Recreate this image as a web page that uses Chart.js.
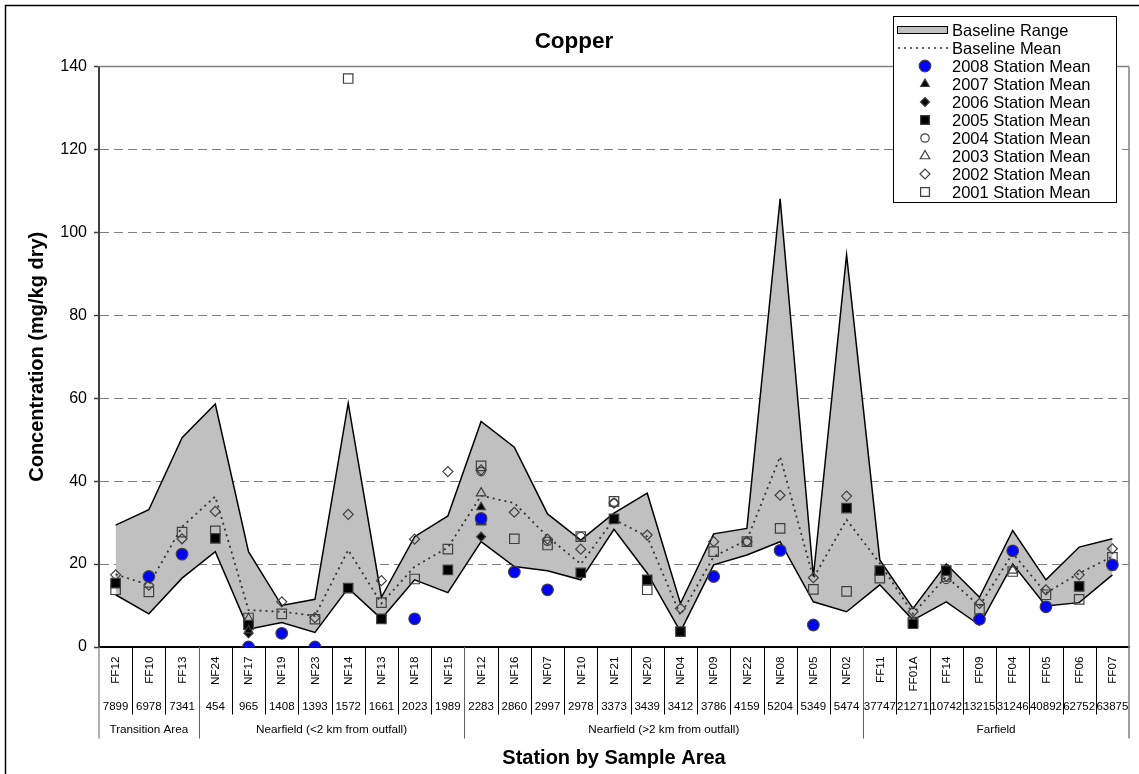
<!DOCTYPE html>
<html><head><meta charset="utf-8">
<script src="https://cdn.jsdelivr.net/npm/chart.js@4/dist/chart.umd.min.js"></script>
<style>html,body{margin:0;padding:0;background:#fff;}#wrap{width:1139px;height:774px;}</style>
</head><body><div id="wrap"><canvas id="c" width="1139" height="774"></canvas></div>
<script>
const stations = ['FF12','FF10','FF13','NF24','NF17','NF19','NF23','NF14','NF13','NF18','NF15','NF12','NF16','NF07','NF10','NF21','NF20','NF04','NF09','NF22','NF08','NF05','NF02','FF11','FF01A','FF14','FF09','FF04','FF05','FF06','FF07'];
const stationNumbers = ['7899','6978','7341','454','965','1408','1393','1572','1661','2023','1989','2283','2860','2997','2978','3373','3439','3412','3786','4159','5204','5349','5474','37747','21271','10742','13215','31246','40892','62752','63875'];
const areaNames = ['Transition Area','Nearfield (<2 km from outfall)','Nearfield (>2 km from outfall)','Farfield'];
const areaSizes = [3, 8, 12, 8];
const yTickValues = [0, 20, 40, 60, 80, 100, 120, 140];

const baselineUpper = [29.4,33.1,50.5,58.6,23.0,10.0,11.5,58.8,12.0,26.6,31.6,54.4,48.2,32.1,25.8,32.3,37.1,10.5,27.3,28.6,108.1,17.0,94.6,21.0,9.3,20.0,12.0,28.1,16.2,24.1,26.1];
const baselineLower = [12.6,8.0,16.6,23.0,4.3,5.9,3.5,14.2,6.8,16.2,13.1,25.4,19.4,18.4,16.2,28.4,17.8,3.7,19.8,22.2,25.4,10.9,8.5,15.0,6.5,10.9,5.3,20.0,9.9,10.7,17.4];
const baselineMean  = [17.5,15.0,29.0,36.3,8.9,8.5,7.5,23.4,10.5,19.4,24.0,36.5,34.7,26.6,20.0,30.8,26.6,7.7,21.8,25.8,45.9,16.6,30.7,20.2,8.0,17.0,9.9,22.6,13.0,17.8,21.8];

const mean2008 = [null,17.0,22.4,null,0,3.3,0,null,null,6.8,null,31.0,18.1,13.8,null,null,null,null,17.0,null,23.3,5.3,null,null,null,null,6.7,23.2,9.7,null,19.8];
const mean2007 = [null,null,null,null,4.0,null,null,null,null,null,null,33.7,null,null,null,null,null,null,null,null,null,null,null,null,null,null,null,null,null,null,null];
const mean2006 = [null,null,null,null,3.3,null,null,null,null,null,null,26.6,null,null,null,null,null,null,null,null,null,null,null,null,null,null,null,null,null,null,null];
const mean2005 = [15.4,null,null,26.2,5.3,null,null,14.2,6.8,null,18.6,30.6,null,null,17.9,30.9,16.2,3.7,null,null,null,null,33.5,18.4,5.6,18.4,null,null,null,14.6,null];
const mean2004 = [null,null,null,null,null,null,null,null,null,null,null,42.3,null,25.5,26.6,34.7,null,null,null,25.4,null,null,null,null,null,16.3,null,null,null,null,null];
const mean2003 = [null,null,null,null,6.8,null,null,null,null,null,null,37.1,null,null,null,null,null,null,null,null,null,null,null,null,null,null,null,18.5,null,null,null];
const mean2002 = [17.4,14.9,26.1,32.7,null,10.9,7.1,32.0,16.0,26.0,42.3,42.7,32.5,26.0,23.6,34.7,27.0,9.3,25.4,25.4,36.6,16.7,36.4,null,8.5,17.0,10.5,null,13.8,17.4,23.7];
const mean2001 = [13.8,13.3,27.7,28.0,7.0,8.0,6.7,137.1,10.7,16.4,23.6,43.7,26.1,24.6,26.6,35.1,13.8,null,23.0,25.4,28.6,13.9,13.4,16.6,6.0,17.0,9.1,18.2,12.6,11.5,21.6];

const FONT = "'Liberation Sans', Arial, sans-serif";
Chart.defaults.font.family = FONT;
Chart.defaults.color = '#000';

function markerSet(label, data, style, radius, fill, order) {
  return { label, data, showLine: false, pointStyle: style, pointRadius: radius, pointHoverRadius: radius,
    pointBackgroundColor: fill, pointBorderColor: '#404040', pointBorderWidth: 1.2,
    backgroundColor: fill, borderColor: '#404040', order };
}

const datasets = [
  { label: 'Baseline Upper', data: baselineUpper, borderColor: '#000', borderWidth: 1.5, pointRadius: 0, fill: false, tension: 0, order: 20, legend: false },
  { label: 'Baseline Range', data: baselineLower, borderColor: '#000', borderWidth: 1.5, pointRadius: 0, fill: '-1', backgroundColor: '#C0C0C0', tension: 0, order: 21 },
  { label: 'Baseline Mean', data: baselineMean, borderColor: '#333', borderWidth: 1.8, borderDash: [2, 4], pointRadius: 0, fill: false, tension: 0, order: 15 },
  markerSet('2008 Station Mean', mean2008, 'circle', 5.8, '#0000FF', 1),
  markerSet('2007 Station Mean', mean2007, 'triangle', 5, '#000', 2),
  markerSet('2006 Station Mean', mean2006, 'rectRot', 4.5, '#000', 3),
  markerSet('2005 Station Mean', mean2005, 'rect', 6.7, '#000', 4),
  markerSet('2004 Station Mean', mean2004, 'circle', 4.2, 'rgba(0,0,0,0)', 5),
  markerSet('2003 Station Mean', mean2003, 'triangle', 5.5, 'rgba(0,0,0,0)', 6),
  markerSet('2002 Station Mean', mean2002, 'rectRot', 5, 'rgba(0,0,0,0)', 7),
  markerSet('2001 Station Mean', mean2001, 'rect', 6.7, 'rgba(0,0,0,0)', 8)
];

function drawShape(ctx, style, r, x, y) {
  if (Chart.helpers && Chart.helpers.drawPoint) {
    Chart.helpers.drawPoint(ctx, { pointStyle: style, radius: r, rotation: 0, borderWidth: ctx.lineWidth }, x, y);
    return;
  }
  ctx.beginPath();
  if (style === 'circle') ctx.arc(x, y, r, 0, Math.PI * 2);
  else if (style === 'rect') { const s = r * Math.SQRT1_2; ctx.rect(x - s, y - s, 2 * s, 2 * s); }
  else if (style === 'rectRot') { ctx.moveTo(x, y - r); ctx.lineTo(x + r, y); ctx.lineTo(x, y + r); ctx.lineTo(x - r, y); ctx.closePath(); }
  else if (style === 'triangle') { ctx.moveTo(x, y - r); ctx.lineTo(x + r * 0.866, y + r * 0.5); ctx.lineTo(x - r * 0.866, y + r * 0.5); ctx.closePath(); }
  ctx.fill(); ctx.stroke();
}

const framePlugin = {
  id: 'frame',
  beforeDraw(chart) {
    const { ctx } = chart;
    ctx.save();
    ctx.fillStyle = '#fff';
    ctx.fillRect(0, 0, chart.width, chart.height);
    ctx.restore();
  },
  afterDraw(chart) {
    const { ctx, chartArea: ca } = chart;
    ctx.save();
    ctx.strokeStyle = '#808080';
    ctx.lineWidth = 1.5;
    ctx.beginPath();
    ctx.moveTo(ca.left, ca.top); ctx.lineTo(ca.right, ca.top);
    ctx.moveTo(ca.right, ca.top); ctx.lineTo(ca.right, ca.bottom + 91.5);
    ctx.stroke();
    ctx.strokeStyle = '#000';
    ctx.lineWidth = 1.5;
    ctx.strokeRect(5.5, 5.5, chart.width + 10, chart.height + 10);
    ctx.restore();
  }
};

const xLabelPlugin = {
  id: 'xLabels',
  afterDraw(chart) {
    const { ctx, chartArea: ca } = chart;
    const xs = chart.scales.x;
    const b = ca.bottom;
    const half = (xs.getPixelForValue(1) - xs.getPixelForValue(0)) / 2;
    ctx.save();
    ctx.fillStyle = '#000';
    ctx.font = '11.7px ' + FONT;
    stations.forEach((s, i) => {
      const x = xs.getPixelForValue(i);
      ctx.save();
      ctx.translate(x + 0.5, b + 9.5);
      ctx.rotate(-Math.PI / 2);
      ctx.textAlign = 'right';
      ctx.textBaseline = 'middle';
      ctx.fillText(s, 0, 0);
      ctx.restore();
    });
    ctx.textAlign = 'center';
    ctx.textBaseline = 'middle';
    ctx.font = '11.5px ' + FONT;
    stationNumbers.forEach((n, i) => {
      ctx.fillText(n, xs.getPixelForValue(i), b + 60);
    });
    ctx.strokeStyle = '#000';
    ctx.lineWidth = 1;
    ctx.beginPath();
    for (let i = 0; i < stations.length - 1; i++) {
      const x = Math.round(xs.getPixelForValue(i) + half) + 0.5;
      ctx.moveTo(x, b); ctx.lineTo(x, b + 67.5);
    }
    ctx.stroke();
    ctx.strokeStyle = '#606060';
    ctx.font = '11.7px ' + FONT;
    ctx.beginPath();
    let start = 0;
    const leftX = xs.getPixelForValue(0) - half;
    ctx.moveTo(leftX, b); ctx.lineTo(leftX, b + 91.5);
    areaSizes.forEach((sz, g) => {
      const endIdx = start + sz - 1;
      const x0 = xs.getPixelForValue(start) - half;
      const x1 = xs.getPixelForValue(endIdx) + half;
      if (g < areaSizes.length - 1) {
        const xx = Math.round(x1) + 0.5;
        ctx.moveTo(xx, b); ctx.lineTo(xx, b + 91.5);
      }
      ctx.fillText(areaNames[g], (x0 + x1) / 2, b + 83);
      start += sz;
    });
    ctx.stroke();
    ctx.restore();
  }
};

const boxLegendPlugin = {
  id: 'boxLegend',
  afterDraw(chart) {
    const { ctx } = chart;
    const L = 893.5, T = 16.5, W = 223, H = 186;
    ctx.save();
    ctx.fillStyle = '#fff';
    ctx.fillRect(L, T, W, H);
    ctx.strokeStyle = '#000';
    ctx.lineWidth = 1;
    ctx.strokeRect(L, T, W, H);
    const rowY = (k) => 30 + 18 * k;
    const textX = 952;
    ctx.font = '16.5px ' + FONT;
    ctx.textAlign = 'left';
    ctx.textBaseline = 'middle';
    const items = chart.data.datasets.filter(d => d.legend !== false);
    items.forEach((d, k) => {
      const y = rowY(k);
      ctx.save();
      if (d.label === 'Baseline Range') {
        ctx.fillStyle = d.backgroundColor;
        ctx.fillRect(897.5, y - 3.5, 50, 7);
        ctx.strokeStyle = '#000';
        ctx.lineWidth = 1;
        ctx.strokeRect(897.5, y - 3.5, 50, 7);
      } else if (d.label === 'Baseline Mean') {
        ctx.strokeStyle = d.borderColor;
        ctx.lineWidth = 1.5;
        ctx.setLineDash([2, 4]);
        ctx.beginPath(); ctx.moveTo(898, y); ctx.lineTo(952, y); ctx.stroke();
      } else {
        ctx.fillStyle = d.pointBackgroundColor;
        ctx.strokeStyle = d.pointBorderColor;
        ctx.lineWidth = 1.2;
        const r = d.pointStyle === 'rect' ? 6.2 : (d.pointStyle === 'circle' && d.pointRadius > 5 ? 5.8 : d.pointRadius);
        drawShape(ctx, d.pointStyle, r, 925, y);
      }
      ctx.restore();
      ctx.fillStyle = '#000';
      ctx.fillText(d.label, textX, y + 1);
    });
    ctx.restore();
  }
};

new Chart(document.getElementById('c'), {
  type: 'line',
  data: { labels: stations, datasets },
  options: {
    responsive: false,
    animation: false,
    devicePixelRatio: 1,
    layout: { padding: { left: 19, right: 10, top: 0, bottom: 0 } },
    plugins: {
      legend: { display: false },
      tooltip: { enabled: false },
      title: { display: true, text: 'Copper', color: '#000', font: { size: 22.5, weight: 'bold', family: FONT }, padding: { top: 28.3, bottom: 11.2 } }
    },
    scales: {
      x: {
        type: 'category',
        offset: true,
        ticks: { display: false },
        grid: { display: false },
        border: { display: true, color: '#000', width: 2 },
        title: { display: true, text: 'Station by Sample Area', color: '#000', font: { size: 20, weight: 'bold', family: FONT }, padding: { top: 0, bottom: 4 } },
        afterFit: (s) => { s.height = 127; }
      },
      y: {
        min: 0, max: 140,
        afterBuildTicks: (s) => { s.ticks = yTickValues.map(v => ({ value: v })); },
        ticks: { color: '#000', font: { size: 16, family: FONT }, padding: 7 },
        grid: {
          color: (c) => (c.tick && (c.tick.value === 0 || c.tick.value === 140)) ? 'rgba(0,0,0,0)' : '#808080',
          lineWidth: 1, drawTicks: true, tickLength: 5, tickColor: '#404040', tickWidth: 1.5, tickBorderDash: []
        },
        border: { display: true, color: '#404040', width: 2, dash: [9, 5] },
        title: { display: true, text: 'Concentration (mg/kg dry)', color: '#000', font: { size: 20, weight: 'bold', family: FONT }, padding: { top: 6.5, bottom: 0 } },
        afterFit: (s) => { s.width = 80; }
      }
    }
  },
  plugins: [framePlugin, xLabelPlugin, boxLegendPlugin]
});
</script>
</body></html>
